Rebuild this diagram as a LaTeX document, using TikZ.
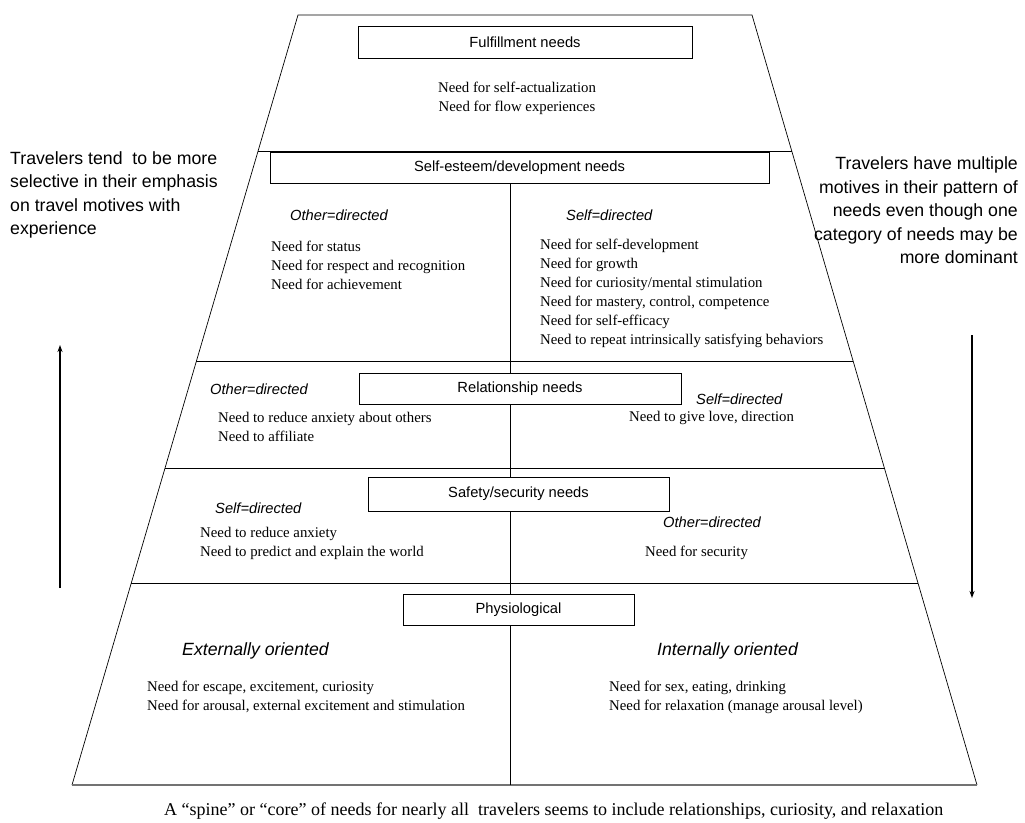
\documentclass[tikz,border=0pt]{standalone}
\usepackage{fontspec}
\setmainfont{Liberation Serif}
\setsansfont{Liberation Sans}
\usepackage{tikz}
\usetikzlibrary{calc,arrows.meta}

\begin{document}
\begin{tikzpicture}[x=1pt,y=-1pt,
  levelbox/.style={draw,line width=0.9pt,fill=white,inner sep=0pt,
    font=\sffamily\fontsize{14.7}{17}\selectfont},
  needs/.style={anchor=west,align=left,inner sep=0pt,
    font=\fontsize{14.8}{19}\selectfont},
  direct/.style={anchor=west,inner sep=0pt,
    font=\sffamily\itshape\fontsize{14.7}{17}\selectfont},
  side/.style={inner sep=0pt,font=\sffamily\fontsize{17.7}{23.5}\selectfont},
  trend/.style={line width=1.1pt,-{Stealth[length=7pt,width=5pt]}}]
  \useasboundingbox (0,0) rectangle (1025,822);

  % pyramid outline
  \coordinate (tl) at (298,15);
  \coordinate (tr) at (752,15);
  \coordinate (br) at (977,785);
  \coordinate (bl) at (72,785);
  \draw[line width=0.7pt] (bl) -- (tl) -- (tr) -- (br);
  \draw[line width=1.6pt,black!55] (bl) -- (br);
  \foreach \yy in {152,362,468,583}
    \draw[line width=1pt] ($(tl)!{(\yy-15)/770}!(bl)$) -- ($(tr)!{(\yy-15)/770}!(br)$);
  \coordinate (spinetop) at (510,152);
  \coordinate (spinebot) at (510,785);
  \draw[line width=0.8pt] (spinetop) -- (spinebot);

  % level boxes
  \node[levelbox,minimum width=334pt,minimum height=32pt] (fulfil) at (525,42) {Fulfillment needs};
  \node[levelbox,minimum width=499pt,minimum height=31pt] (esteem) at (519.5,167.5) {Self-esteem/development needs};
  \node[levelbox,minimum width=322pt,minimum height=31pt] (relation) at (520,388.5) {Relationship needs};
  \node[levelbox,minimum width=301pt,minimum height=34pt] (safety) at (518.5,494) {Safety/security needs};
  \node[levelbox,minimum width=231pt,minimum height=31pt] (physio) at (518.5,609.5) {Physiological};

  % fulfillment
  \node[needs,anchor=center,align=center] (fulfilList) at (517,98)
    {Need for self-actualization\\Need for flow experiences};

  % self-esteem
  \node[direct] (esteemOther) at (290,215) {Other=directed};
  \node[direct] (esteemSelf) at (566,215) {Self=directed};
  \node[needs] (esteemOtherList) at (271,265)
    {Need for status\\Need for respect and recognition\\Need for achievement};
  \node[needs] (esteemSelfList) at (540,293.5)
    {Need for self-development\\Need for growth\\Need for curiosity/mental stimulation\\
     Need for mastery, control, competence\\Need for self-efficacy\\
     Need to repeat intrinsically satisfying behaviors};

  % relationship
  \node[direct] (relOther) at (210,389) {Other=directed};
  \node[direct] (relSelf) at (696,399) {Self=directed};
  \node[needs] (relOtherList) at (218,427)
    {Need to reduce anxiety about others\\Need to affiliate};
  \node[needs] (relSelfList) at (629,418) {Need to give love, direction};

  % safety
  \node[direct] (safeSelf) at (215,508) {Self=directed};
  \node[direct] (safeOther) at (663,522) {Other=directed};
  \node[needs] (safeSelfList) at (200,543)
    {Need to reduce anxiety\\Need to predict and explain the world};
  \node[needs] (safeOtherList) at (645,553) {Need for security};

  % physiological
  \node[side,anchor=west,font=\sffamily\itshape\fontsize{17.7}{21}\selectfont] (physExt) at (182,651) {Externally oriented};
  \node[side,anchor=west,font=\sffamily\itshape\fontsize{17.7}{21}\selectfont] (physInt) at (657,651) {Internally oriented};
  \node[needs] (physExtList) at (147,697)
    {Need for escape, excitement, curiosity\\Need for arousal, external excitement and stimulation};
  \node[needs] (physIntList) at (609,697)
    {Need for sex, eating, drinking\\Need for relaxation (manage arousal level)};

  % side remarks and arrows
  \node[side,anchor=west,align=left] (leftNote) at (10,195)
    {Travelers tend~ to be more\\selective in their emphasis\\on travel motives with\\experience};
  \node[side,anchor=east,align=right] (rightNote) at (1018,210.5)
    {Travelers have multiple\\motives in their pattern of\\needs even though one\\category of needs may be\\more dominant};
  \coordinate (upFrom) at (60,588);
  \coordinate (upTo) at (60,345);
  \coordinate (downFrom) at (972,335);
  \coordinate (downTo) at (972,598);
  \draw[trend] (upFrom) -- (upTo);
  \draw[trend] (downFrom) -- (downTo);

  \node[needs,font=\fontsize{18}{21}\selectfont] (spineNote) at (164,811)
    {A “spine” or “core” of needs for nearly all~ travelers seems to include relationships, curiosity, and relaxation};
\end{tikzpicture}
\end{document}
